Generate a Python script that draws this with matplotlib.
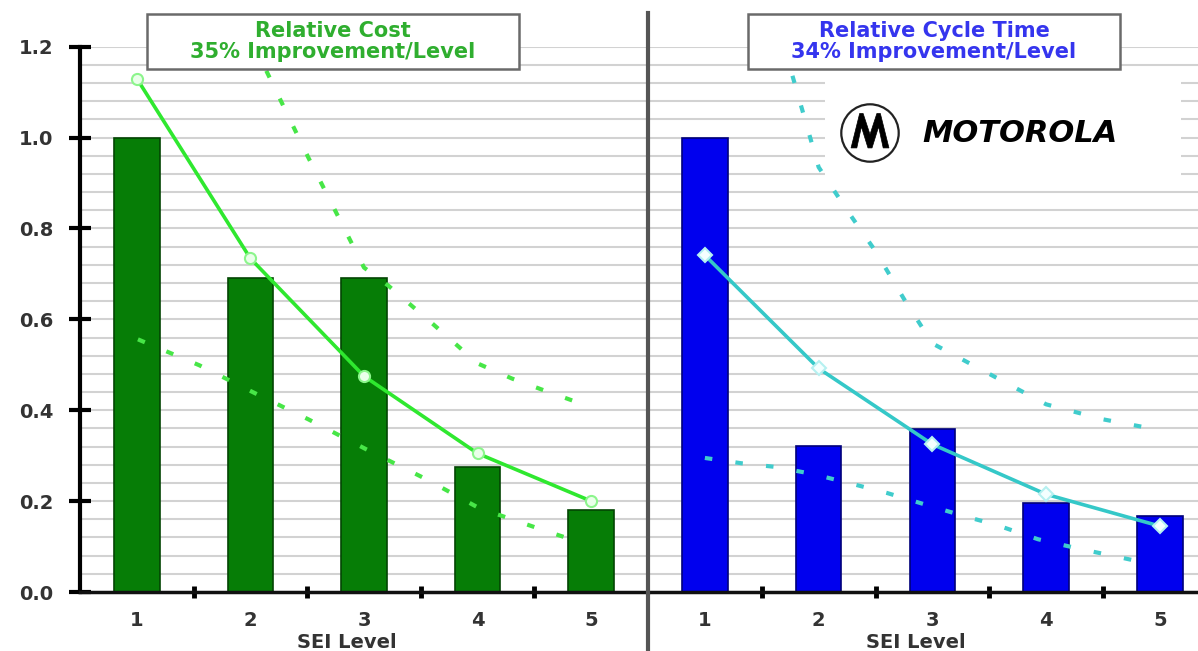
import matplotlib.pyplot as plt
import matplotlib.transforms as mtransforms
from matplotlib.patches import Rectangle, Circle, Polygon
from matplotlib.lines import Line2D
from matplotlib.ticker import FixedLocator, MultipleLocator

plt.rcParams['font.family'] = ['DejaVu Sans']

# SEI maturity levels and axis labels
levels = [1, 2, 3, 4, 5]
level_labels = ['1', '2', '3', '4', '5']
y_ticks = [0.0, 0.2, 0.4, 0.6, 0.8, 1.0, 1.2]
y_tick_labels = ['0.0', '0.2', '0.4', '0.6', '0.8', '1.0', '1.2']

# Relative cost per SEI level
cost_actual = [1.00, 0.69, 0.69, 0.275, 0.18]
cost_fit = [1.13, 0.734, 0.475, 0.305, 0.20]
cost_upper_lvl = [2.14, 2.51, 3.0, 3.21, 3.61, 4.0, 4.3, 4.56, 4.85]
cost_upper_val = [1.147, 0.956, 0.714, 0.675, 0.589, 0.503, 0.47, 0.446, 0.42]
cost_lower_lvl = [1.01, 1.55, 2.02, 2.51, 3.02, 3.55, 4.01, 4.58, 4.87]
cost_lower_val = [0.556, 0.499, 0.440, 0.380, 0.314, 0.248, 0.185, 0.136, 0.112]

# Relative cycle time per SEI level
cycle_actual = [1.00, 0.321, 0.358, 0.196, 0.167]
cycle_fit = [0.741, 0.492, 0.325, 0.215, 0.145]
cycle_upper_lvl = [1.77, 1.88, 2.0, 2.25, 2.5, 2.75, 3.0, 3.5, 4.0, 4.5, 4.92]
cycle_upper_val = [1.136, 1.04, 0.935, 0.84, 0.75, 0.645, 0.547, 0.48, 0.413, 0.38, 0.36]
cycle_lower_lvl = [1.0, 1.33, 1.63, 1.96, 2.31, 2.6, 2.93, 3.28, 3.57, 3.93, 4.31, 4.6, 4.91]
cycle_lower_val = [0.295, 0.283, 0.275, 0.259, 0.237, 0.218, 0.193, 0.167, 0.147, 0.116,
                   0.094, 0.079, 0.062]

cost_title = 'Relative Cost\n35% Improvement/Level'
cycle_title = 'Relative Cycle Time\n34% Improvement/Level'

W, H = 1198, 651
fig = plt.figure(figsize=(W / 100, H / 100), dpi=100)
fig.patch.set_facecolor('white')


def fx(px):
    return px / W


def fy(py):
    return 1 - py / H


ax_bottom, ax_top = 592, 46.7
axL = fig.add_axes([fx(80), fy(ax_bottom), fx(648) - fx(80), (ax_bottom - ax_top) / H])
axR = fig.add_axes([fx(648), fy(ax_bottom), fx(1198) - fx(648), (ax_bottom - ax_top) / H])

dots = (0, (1.8, 5.6))
panels = [
    (axL, cost_actual, cost_fit, cost_upper_lvl, cost_upper_val, cost_lower_lvl, cost_lower_val,
     '#067d06', '#034503', '#2fe82f', '#47e647', 'o', '#eaffea', '#8cf58c', (0.5, 5.5)),
    (axR, cycle_actual, cycle_fit, cycle_upper_lvl, cycle_upper_val, cycle_lower_lvl, cycle_lower_val,
     '#0000ee', '#00007a', '#35c8c8', '#40cccc', 'D', '#f4ffff', '#b5f0f0', (0.5, 0.5 + 550 / 113.75)),
]

for (ax, actual, fit, up_x, up_y, lo_x, lo_y, bar_c, bar_ec, line_c, dot_c, mk, mfc, mec, xl) in panels:
    ax.set_xlim(*xl)
    ax.set_ylim(0, 1.2)
    ax.set_facecolor('white')
    ax.yaxis.set_minor_locator(MultipleLocator(0.04))
    ax.set_yticks(y_ticks)
    ax.grid(axis='y', which='both', color='#d2d2d2', lw=1.5)
    ax.set_axisbelow(True)

    ax.bar(levels, actual, width=0.4, color=bar_c, edgecolor=bar_ec, lw=1.2, zorder=2)
    ax.plot(up_x, up_y, color=dot_c, lw=3, ls=dots, zorder=3)
    ax.plot(lo_x, lo_y, color=dot_c, lw=3, ls=dots, zorder=3)
    ax.plot(levels, fit, color=line_c, lw=2.6, marker=mk, ms=8 if mk == 'o' else 7,
            mfc=mfc, mec=mec, mew=1.5, zorder=4)

    ax.set_xticks(levels, level_labels, fontsize=14, fontweight='bold', color='#333333')
    ax.xaxis.set_minor_locator(FixedLocator([1.5, 2.5, 3.5, 4.5]))
    ax.tick_params(axis='x', which='major', length=0, pad=14)
    ax.tick_params(axis='x', which='minor', direction='inout', length=8, width=3.5, color='black')
    ax.tick_params(axis='y', which='minor', length=0)

    for side in ('top', 'right'):
        ax.spines[side].set_visible(False)
    ax.spines['bottom'].set_linewidth(2.5)
    ax.spines['bottom'].set_color('#111111')

    lab_tr = mtransforms.blended_transform_factory(ax.transData, fig.transFigure)
    ax.text(2.85, fy(643), 'SEI Level', transform=lab_tr, ha='center', va='center',
            fontsize=14, fontweight='bold', color='#333333', clip_on=False)

# Left panel value axis
axL.set_yticklabels(y_tick_labels, fontsize=14, fontweight='bold', color='#333333')
axL.tick_params(axis='y', which='major', direction='inout', length=16, width=3,
                color='black', pad=11)
axL.spines['left'].set_linewidth(3)
axL.spines['left'].set_color('black')

# Right panel shares the divider as its left edge
axR.spines['left'].set_visible(False)
axR.tick_params(axis='y', which='both', left=False, labelleft=False)

fig.add_artist(Line2D([fx(648), fx(648)], [fy(13), fy(651)], color='#555555', lw=3,
                      transform=fig.transFigure))

# Panel title boxes
for x0, x1, txt, col in [(147, 519, cost_title, '#2fae2f'), (748, 1120, cycle_title, '#3535ee')]:
    fig.add_artist(Rectangle((fx(x0), fy(69)), fx(x1) - fx(x0), (69 - 14) / H,
                             transform=fig.transFigure, facecolor='white',
                             edgecolor='#6a6a6a', lw=1.8, zorder=5))
    fig.text(fx((x0 + x1) / 2), fy(41.5), txt, ha='center', va='center', fontsize=15,
             fontweight='bold', color=col, linespacing=1.12, zorder=6)

# Company logo block
axR.add_patch(Rectangle((fx(825), fy(185)), fx(1181) - fx(825), (185 - 73) / H,
                        transform=fig.transFigure, facecolor='white', edgecolor='none',
                        zorder=1, clip_on=False))
fig.text(fx(922), fy(134), 'MOTOROLA', ha='left', va='center', fontsize=22,
         fontweight='heavy', fontstyle='italic', color='black', zorder=7)

logo = fig.add_axes([fx(839), fy(164), fx(901) - fx(839), (164 - 102) / H])
logo.set_xlim(-1.08, 1.08)
logo.set_ylim(-1.08, 1.08)
logo.axis('off')
logo.patch.set_alpha(0)
logo.add_patch(Circle((0, 0), 1.0, facecolor='white', edgecolor='#222222', lw=1.6))
logo.add_patch(Polygon([(-0.66, -0.52), (-0.36, 0.68), (-0.24, 0.68), (0.0, -0.05),
                        (0.24, 0.68), (0.36, 0.68), (0.66, -0.52), (0.46, -0.52),
                        (0.30, 0.22), (0.07, -0.52), (-0.07, -0.52), (-0.30, 0.22),
                        (-0.46, -0.52)],
                       closed=True, facecolor='black', edgecolor='black', lw=0.5))

fig.savefig('out.png', dpi=100, facecolor='white')
